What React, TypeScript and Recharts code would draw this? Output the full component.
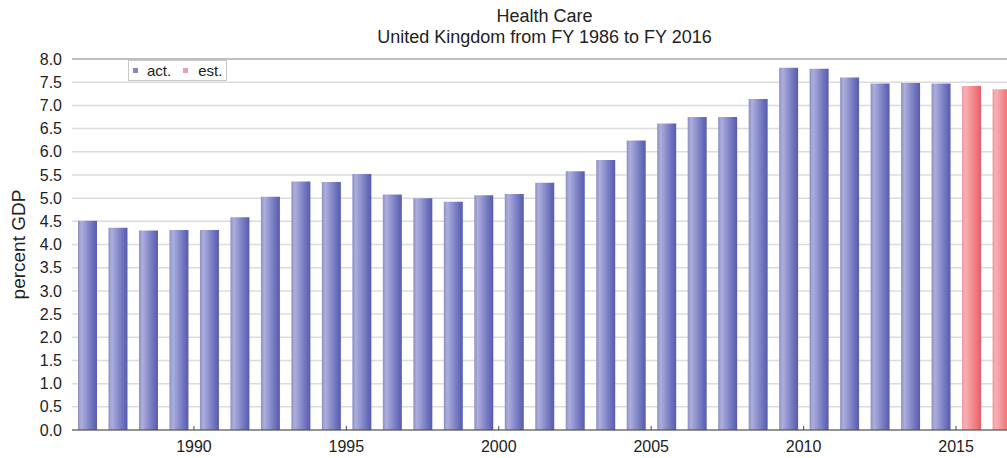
import React from "react";
import { BarChart, Bar, Cell, XAxis, YAxis, CartesianGrid, ReferenceLine } from "recharts";

// Health care spending, percent of GDP, by fiscal year
const years = [
  1986, 1987, 1988, 1989, 1990, 1991, 1992, 1993, 1994, 1995, 1996, 1997, 1998, 1999, 2000, 2001,
  2002, 2003, 2004, 2005, 2006, 2007, 2008, 2009, 2010, 2011, 2012, 2013, 2014, 2015, 2016,
];
const spending = [
  4.51, 4.36, 4.3, 4.31, 4.31, 4.59, 5.03, 5.36, 5.35, 5.52, 5.08, 5.0, 4.92, 5.06, 5.09, 5.33,
  5.58, 5.82, 6.24, 6.61, 6.75, 6.75, 7.14, 7.81, 7.79, 7.6, 7.47, 7.48, 7.47, 7.42, 7.35,
];
const estimatedYears = [2015, 2016];

const yTicks = [0, 0.5, 1, 1.5, 2, 2.5, 3, 3.5, 4, 4.5, 5, 5.5, 6, 6.5, 7, 7.5, 8];
const yMinorTicks = Array.from({ length: 81 }, (_, i) => i / 10);
const xTickYears = [1990, 1995, 2000, 2005, 2010, 2015];

const data = years.map((year, i) => ({
  year,
  value: spending[i],
  est: estimatedYears.includes(year),
}));

const FONT = "'Liberation Sans', Arial, Helvetica, sans-serif";
const CHART_W = 1020;
const MARGIN = { top: 59, right: 3, left: 0, bottom: 0 };
const Y_AXIS_W = 72;
const SLOT = (CHART_W - MARGIN.left - MARGIN.right - Y_AXIS_W) / years.length;

// year labels sit on the boundary at the start of each fiscal year's slot
function YearTick(props: any) {
  const { x, y, payload } = props;
  if (!xTickYears.includes(payload.value)) return <g />;
  const half = typeof payload.offset === "number" && payload.offset > 0 ? payload.offset : SLOT / 2;
  const bx = x - half;
  return (
    <g>
      <line x1={bx} x2={bx} y1={y} y2={y - 4} stroke="#444" strokeWidth={1} />
      <text x={bx} y={y + 22} textAnchor="middle" fill="#222" fontSize={16} fontFamily={FONT}>
        {payload.value}
      </text>
    </g>
  );
}

function YLabel(props: any) {
  const vb = props.viewBox || { x: 0, y: 59, width: 72, height: 371 };
  const cx = vb.x + 18;
  const cy = vb.y + vb.height / 2;
  return (
    <text
      x={cx}
      y={cy}
      transform={`rotate(-90 ${cx} ${cy})`}
      textAnchor="middle"
      dominantBaseline="central"
      fill="#222"
      fontSize={19}
      fontFamily={FONT}
    >
      percent GDP
    </text>
  );
}

export default function App() {
  return (
    <div
      style={{
        position: "fixed",
        left: 0,
        top: 0,
        width: 1007,
        height: 458,
        overflow: "hidden",
        background: "#fff",
        fontFamily: FONT,
      }}
    >
      <div
        style={{
          position: "absolute",
          left: 0,
          top: 6,
          width: 1089,
          textAlign: "center",
          fontSize: 18,
          lineHeight: "21px",
          color: "#222",
        }}
      >
        <div>Health Care</div>
        <div>United Kingdom from FY 1986 to FY 2016</div>
      </div>

      <BarChart width={CHART_W} height={458} data={data} margin={MARGIN} style={{ fontFamily: FONT }}>
        <defs>
          <linearGradient id="actFill" x1="0" y1="0" x2="1" y2="0">
            <stop offset="0%" stopColor="#8e90c6" />
            <stop offset="18%" stopColor="#acaedc" />
            <stop offset="85%" stopColor="#6468b8" />
            <stop offset="100%" stopColor="#585cae" />
          </linearGradient>
          <linearGradient id="estFill" x1="0" y1="0" x2="1" y2="0">
            <stop offset="0%" stopColor="#f09aa0" />
            <stop offset="18%" stopColor="#f7b0b4" />
            <stop offset="85%" stopColor="#ef6c74" />
            <stop offset="100%" stopColor="#e65e68" />
          </linearGradient>
        </defs>
        <CartesianGrid vertical={false} stroke="#dcdcdc" strokeWidth={1.5} />
        <ReferenceLine y={8} stroke="#999" strokeWidth={1} />
        <YAxis
          yAxisId="minor"
          orientation="left"
          mirror
          width={0}
          domain={[0, 8]}
          ticks={yMinorTicks}
          interval={0}
          tickSize={3}
          tick={() => <g />}
          tickLine={{ stroke: "#777" }}
          axisLine={{ stroke: "#777" }}
        />
        <YAxis
          width={Y_AXIS_W}
          domain={[0, 8]}
          ticks={yTicks}
          interval={0}
          axisLine={false}
          tickLine={false}
          tickSize={6}
          tickMargin={4}
          tickFormatter={(v: number) => v.toFixed(1)}
          tick={{ fill: "#222", fontSize: 16, fontFamily: FONT }}
          label={{ content: <YLabel /> }}
        />
        <XAxis
          dataKey="year"
          height={28}
          interval={0}
          tickSize={0}
          tickMargin={0}
          tickLine={false}
          axisLine={{ stroke: "#444" }}
          tick={<YearTick />}
        />
        <Bar dataKey="value" barSize={19} isAnimationActive={false}>
          {data.map((d) => (
            <Cell key={d.year} fill={d.est ? "url(#estFill)" : "url(#actFill)"} />
          ))}
        </Bar>
      </BarChart>

      <div
        style={{
          position: "absolute",
          left: 128,
          top: 60,
          height: 19,
          border: "1px solid #c8c8c8",
          background: "#fff",
          display: "flex",
          alignItems: "center",
          paddingLeft: 4,
          paddingRight: 4,
          fontSize: 15,
          color: "#222",
        }}
      >
        <span style={{ width: 5, height: 5, background: "#8587c0", marginRight: 9 }} />
        <span>act.</span>
        <span style={{ width: 5, height: 5, background: "#e6a3ad", marginLeft: 12, marginRight: 10 }} />
        <span>est.</span>
      </div>
    </div>
  );
}
